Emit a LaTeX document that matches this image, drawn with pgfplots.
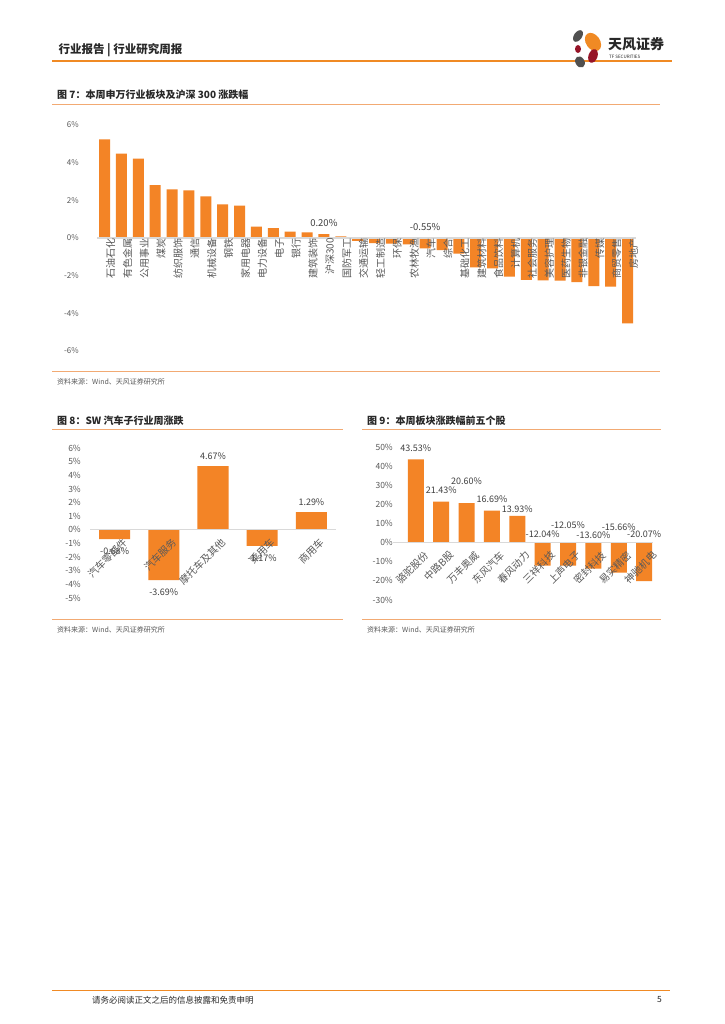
\documentclass[border=0pt]{standalone}
\usepackage{fontspec}
\setmainfont{Noto Sans CJK SC}
\usepackage{pgfplots}
\pgfplotsset{compat=1.18}
\definecolor{barorange}{RGB}{243,132,38}
\definecolor{hdrorange}{RGB}{240,138,36}
\definecolor{seporange}{RGB}{242,170,115}
\definecolor{zline}{RGB}{217,217,217}
\definecolor{tick}{RGB}{89,89,89}
\definecolor{lbl}{RGB}{64,64,64}
\definecolor{ttl}{RGB}{40,40,40}
\definecolor{logogray}{RGB}{80,80,80}
\definecolor{logored}{RGB}{150,20,40}
\pgfplotsset{
  repbar/.style={
    scale only axis, anchor=south west, clip=false, axis on top,
    ybar, axis x line=middle, axis y line=left,
    x axis line style={draw=zline, line width=1.2pt, -},
    y axis line style={draw=none},
    hide obscured x ticks=false, hide obscured y ticks=false,
    major tick length=0pt, tick style={draw=none},
    xtick=data,
    yticklabel style={anchor=east, inner sep=0pt, text=tick},
  },
}
\begin{document}
\begin{tikzpicture}
\useasboundingbox[fill=white] (0,0) rectangle (724pt,1024pt);

% header
\node[anchor=west, text=ttl, font=\fontsize{11.5}{12}\selectfont\bfseries] at (55pt,974pt) {行业报告 | 行业研究周报};
\draw[hdrorange, line width=1.6pt] (52pt,963pt) -- (672pt,963pt);
\fill[logogray, rotate around={-35:(578pt,988pt)}] (578pt,988pt) ellipse (4pt and 6.5pt);
\fill[hdrorange, rotate around={35:(593pt,982pt)}] (593pt,982pt) ellipse (7pt and 10pt);
\fill[logored, rotate around={-20:(593pt,968pt)}] (593pt,968pt) ellipse (4.5pt and 7pt);
\fill[logogray, rotate around={30:(580pt,962pt)}] (580pt,962pt) ellipse (4.5pt and 6pt);
\fill[logored] (578pt,975pt) ellipse (3pt and 4pt);
\node[anchor=west, text=ttl, font=\fontsize{14}{15}\selectfont\bfseries, inner sep=0pt] at (608pt,980pt) {天风证券};
\node[anchor=west, text=ttl, font=\fontsize{4.5}{5}\selectfont, inner sep=0pt] at (609pt,967pt) {TF SECURITIES};

% chart 7 frame
\node[anchor=west, text=ttl, font=\fontsize{10}{11}\selectfont\bfseries, inner sep=0pt] at (57pt,929pt) {图 7：本周申万行业板块及沪深 300 涨跌幅};
\draw[seporange, line width=0.8pt] (52pt,919.5pt) -- (660pt,919.5pt);
\draw[seporange, line width=0.8pt] (52pt,653pt) -- (660pt,653pt);
\node[anchor=west, text=tick, font=\fontsize{7}{8}\selectfont, inner sep=0pt] at (57pt,642.5pt) {资料来源：Wind、天风证券研究所};

\begin{axis}[repbar,
  at={(97pt,673pt)}, width=539pt, height=226pt,
  xmin=-0.45, xmax=31.5, ymin=-6, ymax=6, bar width=11pt,
  xticklabels={石油石化,有色金属,公用事业,煤炭,纺织服饰,通信,机械设备,钢铁,家用电器,电力设备,电子,银行,建筑装饰,沪深300,国防军工,交通运输,轻工制造,环保,农林牧渔,汽车,综合,基础化工,建筑材料,食品饮料,计算机,社会服务,美容护理,医药生物,非银金融,传媒,商贸零售,房地产},
  xticklabel style={rotate=90, anchor=east, inner sep=0pt, yshift=-6pt, text=tick, font=\fontsize{10}{10}\selectfont},
  ytick={-6,-4,-2,0,2,4,6}, yticklabels={-6\%,-4\%,-2\%,0\%,2\%,4\%,6\%},
  yticklabel style={xshift=-18pt, font=\fontsize{8}{9}\selectfont},
]
\addplot[fill=barorange, draw=none] coordinates {
(0,5.24) (1,4.48) (2,4.21) (3,2.80) (4,2.58) (5,2.53) (6,2.21) (7,1.79)
(8,1.72) (9,0.60) (10,0.53) (11,0.34) (12,0.30) (13,0.20) (14,0.09) (15,-0.16)
(16,-0.27) (17,-0.30) (18,-0.34) (19,-0.55) (20,-0.65) (21,-0.83) (22,-1.56) (23,-1.62)
(24,-2.05) (25,-2.23) (26,-2.25) (27,-2.26) (28,-2.35) (29,-2.55) (30,-2.58) (31,-4.53)};
\node[text=lbl, font=\fontsize{9.5}{10}\selectfont, inner sep=0pt] at (axis cs:13,0.8) {0.20\%};
\node[text=lbl, font=\fontsize{9.5}{10}\selectfont, inner sep=0pt] at (axis cs:19,0.57) {-0.55\%};
\end{axis}

% chart 8 frame
\node[anchor=west, text=ttl, font=\fontsize{10}{11}\selectfont\bfseries, inner sep=0pt] at (57pt,603pt) {图 8：SW 汽车子行业周涨跌};
\draw[seporange, line width=0.8pt] (52pt,594.5pt) -- (343pt,594.5pt);
\draw[seporange, line width=0.8pt] (52pt,405pt) -- (343pt,405pt);
\node[anchor=west, text=tick, font=\fontsize{7}{8}\selectfont, inner sep=0pt] at (57pt,394pt) {资料来源：Wind、天风证券研究所};

\begin{axis}[repbar,
  at={(90pt,426pt)}, width=246pt, height=150pt,
  xmin=-0.5, xmax=4.5, ymin=-5, ymax=6, bar width=31pt,
  xticklabels={汽车零部件,汽车服务,摩托车及其他,乘用车,商用车},
  xticklabel style={rotate=45, anchor=north east, inner sep=0pt, yshift=-10pt, text=tick, font=\fontsize{10}{10}\selectfont},
  ytick={-5,-4,...,6}, yticklabels={-5\%,-4\%,-3\%,-2\%,-1\%,0\%,1\%,2\%,3\%,4\%,5\%,6\%},
  yticklabel style={xshift=-9pt, font=\fontsize{8.5}{9}\selectfont},
]
\addplot[fill=barorange, draw=none] coordinates {(0,-0.68) (1,-3.69) (2,4.67) (3,-1.17) (4,1.29)};
\node[text=lbl, font=\fontsize{9}{10}\selectfont, inner sep=0pt] at (axis cs:2,5.43) {4.67\%};
\node[text=lbl, font=\fontsize{9}{10}\selectfont, inner sep=0pt] at (axis cs:4,2.03) {1.29\%};
\node[text=lbl, font=\fontsize{9}{10}\selectfont, inner sep=0pt] at (axis cs:1,-4.6) {-3.69\%};
\node[text=lbl, font=\fontsize{9}{10}\selectfont, inner sep=0pt] at (axis cs:0,-1.59) {-0.68\%};
\node[text=lbl, font=\fontsize{9}{10}\selectfont, inner sep=0pt] at (axis cs:3,-2.07) {-1.17\%};
\end{axis}

% chart 9 frame
\node[anchor=west, text=ttl, font=\fontsize{10}{11}\selectfont\bfseries, inner sep=0pt] at (367pt,603pt) {图 9：本周板块涨跌幅前五个股};
\draw[seporange, line width=0.8pt] (362pt,594.5pt) -- (661pt,594.5pt);
\draw[seporange, line width=0.8pt] (362pt,405pt) -- (661pt,405pt);
\node[anchor=west, text=tick, font=\fontsize{7}{8}\selectfont, inner sep=0pt] at (367pt,394pt) {资料来源：Wind、天风证券研究所};

\begin{axis}[repbar,
  at={(393pt,424pt)}, width=260pt, height=153pt,
  xmin=-0.9, xmax=9.35, ymin=-30, ymax=50, bar width=16pt,
  xticklabels={骆驼股份,中路B股,万丰奥威,东风汽车,春风动力,三祥科技,上声电子,密封科技,易实精密,神驰机电},
  xticklabel style={rotate=45, anchor=north east, inner sep=0pt, yshift=-10pt, text=tick, font=\fontsize{10}{10}\selectfont},
  ytick={-30,-20,...,50}, yticklabels={-30\%,-20\%,-10\%,0\%,10\%,20\%,30\%,40\%,50\%},
  yticklabel style={xshift=0pt, font=\fontsize{8.5}{9}\selectfont},
]
\addplot[fill=barorange, draw=none] coordinates {(0,43.53) (1,21.43) (2,20.60) (3,16.69) (4,13.93) (5,-12.04) (6,-12.05) (7,-13.60) (8,-15.66) (9,-20.07)};
\node[text=lbl, font=\fontsize{9}{10}\selectfont, inner sep=0pt] at (axis cs:0,49.3) {43.53\%};
\node[text=lbl, font=\fontsize{9}{10}\selectfont, inner sep=0pt] at (axis cs:1,27.5) {21.43\%};
\node[text=lbl, font=\fontsize{9}{10}\selectfont, inner sep=0pt] at (axis cs:2,32.0) {20.60\%};
\node[text=lbl, font=\fontsize{9}{10}\selectfont, inner sep=0pt] at (axis cs:3,22.6) {16.69\%};
\node[text=lbl, font=\fontsize{9}{10}\selectfont, inner sep=0pt] at (axis cs:4,17.6) {13.93\%};
\node[text=lbl, font=\fontsize{9}{10}\selectfont, inner sep=0pt] at (axis cs:5,4.3) {-12.04\%};
\node[text=lbl, font=\fontsize{9}{10}\selectfont, inner sep=0pt] at (axis cs:6,9.0) {-12.05\%};
\node[text=lbl, font=\fontsize{9}{10}\selectfont, inner sep=0pt] at (axis cs:7,3.8) {-13.60\%};
\node[text=lbl, font=\fontsize{9}{10}\selectfont, inner sep=0pt] at (axis cs:8,8.2) {-15.66\%};
\node[text=lbl, font=\fontsize{9}{10}\selectfont, inner sep=0pt] at (axis cs:9,4.3) {-20.07\%};
\end{axis}

% footer
\draw[hdrorange, line width=1.6pt] (52pt,33.5pt) -- (670pt,33.5pt);
\node[anchor=west, text=ttl, font=\fontsize{8.5}{9}\selectfont, inner sep=0pt] at (92pt,24pt) {请务必阅读正文之后的信息披露和免责申明};
\node[anchor=east, text=ttl, font=\fontsize{8.5}{9}\selectfont, inner sep=0pt] at (662pt,24pt) {5};
\end{tikzpicture}
\end{document}
